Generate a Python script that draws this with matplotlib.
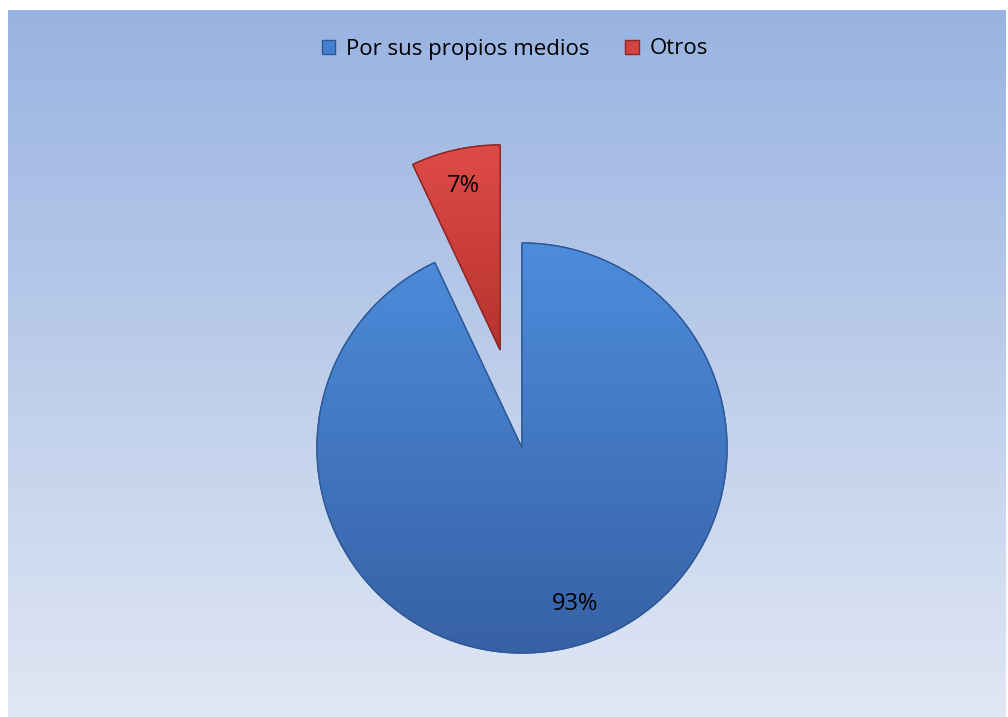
import numpy as np
import matplotlib
matplotlib.use("Agg")
import matplotlib.pyplot as plt
from matplotlib.patches import Patch, PathPatch
from matplotlib.colors import LinearSegmentedColormap

labels = ["Por sus propios medios", "Otros"]
values = [93, 7]
colors = ["#4580cf", "#d24441"]
explode = [0, 0.49]

W, H = 1008, 717
fig = plt.figure(figsize=(W / 100, H / 100), dpi=100)
fig.patch.set_facecolor("white")

# background gradient panel
bg = fig.add_axes([8 / W, 0, 1 - 10 / W, 1 - 10 / H])
bg.set_axis_off()
grad = np.linspace(0, 1, 256).reshape(-1, 1)
bgcmap = LinearSegmentedColormap.from_list("bg", ["#99b3e1", "#e0e7f4"])
bg.imshow(grad, aspect="auto", cmap=bgcmap, extent=[0, 1, 0, 1], origin="upper")

# pie axes: radius 1 = 205 px, centre at (522, 448) from top
R = 205.0
cx, cy = 522.0, H - 448.0
ax = fig.add_axes([0, 0, 1, 1])
ax.patch.set_alpha(0)
wedges, texts, autotexts = ax.pie(
    values, colors=colors, explode=explode, startangle=90, counterclock=False,
    autopct="%1.0f%%", pctdistance=0.82,
    wedgeprops=dict(linewidth=1.0),
    textprops=dict(fontsize=17, family="Open Sans", color="black"),
)
ax.set_aspect("auto")
ax.set_axis_off()

# shading gradients clipped to wedges
shades = [("#4d8ddc", "#3761a5", "#2c5896"), ("#de4b47", "#b7322f", "#8e2623")]
for w, (c1, c2, ec) in zip(wedges, shades):
    w.set_edgecolor(ec)
    ext = w.get_path().get_extents()
    cm = LinearSegmentedColormap.from_list("s", [c1, c2])
    im = ax.imshow(grad, aspect="auto", cmap=cm, origin="upper",
                   extent=[ext.x0, ext.x1, ext.y0, ext.y1], zorder=w.get_zorder() + 0.1)
    im.set_clip_path(w)
    outline = PathPatch(w.get_path(), transform=w.get_transform(), fill=False,
                        edgecolor=ec, linewidth=1.0, zorder=w.get_zorder() + 0.2)
    ax.add_patch(outline)

# label placement nudged as in the original
autotexts[0].set_position((0.26, -0.76))
for t in autotexts:
    t.set_zorder(10)
ax.set_xlim(-cx / R, (W - cx) / R)
ax.set_ylim(-cy / R, (H - cy) / R)

handles = [Patch(facecolor=c, edgecolor=s[2]) for c, s in zip(colors, shades)]
fig.legend(handles, labels, loc="center", bbox_to_anchor=(515 / W, 1 - 49 / H),
           ncol=2, frameon=False, prop=dict(family="Open Sans", size=16),
           handlelength=0.6, handleheight=0.6, handletextpad=0.5, columnspacing=1.6)

fig.savefig("out.png", dpi=100)
